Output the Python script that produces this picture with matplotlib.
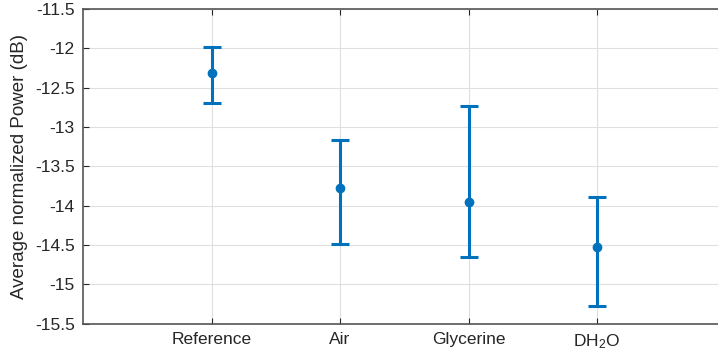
import matplotlib.pyplot as plt
import numpy as np

plt.rcParams['font.family'] = ['Liberation Sans', 'DejaVu Sans']
plt.rcParams['mathtext.default'] = 'regular'

samples = ['Reference', 'Air', 'Glycerine', 'DH$_2$O']
mean_power = [-12.31, -13.78, -13.95, -14.53]
upper_power = [-11.98, -13.17, -12.73, -13.89]
lower_power = [-12.69, -14.49, -14.65, -15.28]

blue = '#0072BD'
axcol = '#262626'

fig = plt.figure(figsize=(7.18, 3.58), dpi=100)
ax = fig.add_axes([83 / 718, 34.5 / 358, 642.5 / 718, 314.5 / 358])

x = np.arange(1, len(samples) + 1)
mean = np.array(mean_power)
yerr = [mean - np.array(lower_power), np.array(upper_power) - mean]
ax.errorbar(x, mean, yerr=yerr, fmt='o', color=blue, ms=6, elinewidth=2.2,
            capsize=6.5, capthick=2.2, zorder=3)

ax.set_xlim(0, 5)
ax.set_ylim(-15.5, -11.5)
ax.set_xticks(x)
ax.set_xticklabels(samples)
ax.set_yticks(np.arange(-15.5, -11.4, 0.5))
ax.set_yticklabels(['%g' % v for v in np.arange(-15.5, -11.4, 0.5)])

ax.grid(True, color='#dfdfdf', linewidth=0.8)
ax.set_axisbelow(True)
ax.tick_params(direction='in', top=True, right=True, length=4, width=0.8,
               colors=axcol, labelsize=12.5, pad=6)
for s in ax.spines.values():
    s.set_color('#555555')
    s.set_linewidth(1.2)

ax.set_ylabel('Average normalized Power (dB)', fontsize=13.5, color=axcol, labelpad=5)

fig.savefig('out.png', dpi=100)
